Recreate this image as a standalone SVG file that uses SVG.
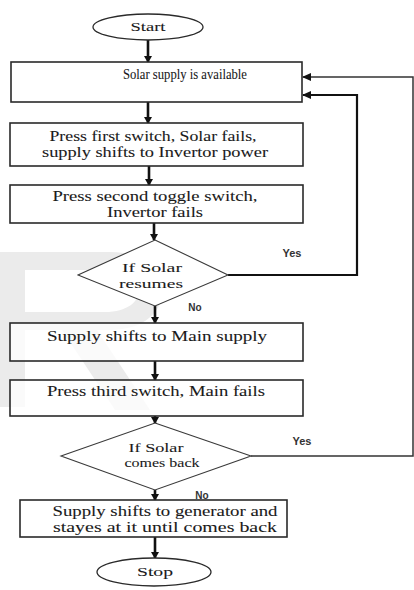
<svg xmlns="http://www.w3.org/2000/svg" width="414" height="590" viewBox="0 0 414 590">
<style>
.box{fill:#fff;fill-opacity:0.75;stroke:#2a2a2a;stroke-width:1.6}
.dia{fill:#fff;stroke:#3a3a3a;stroke-width:1.1}
.term{fill:#fff;stroke:#2a2a2a;stroke-width:1.3}
.t{font-family:"Liberation Serif","Times New Roman",serif;font-size:14px;fill:#1a1a1a;stroke:#1a1a1a;stroke-width:0.08;text-anchor:middle}
.d{font-size:13.5px}
.s{font-family:"Liberation Sans",Arial,sans-serif;font-size:11px;fill:#333;text-anchor:middle;font-weight:bold}
.arr{stroke:#111;stroke-width:2.6;fill:none;marker-end:url(#ah)}
.loop{stroke:#333;stroke-width:1.5;fill:none;marker-end:url(#ah2)}
.wm{fill:#ebebeb}
</style>
<defs>
<marker id="ah" markerWidth="8" markerHeight="8" refX="6" refY="4" orient="auto" markerUnits="userSpaceOnUse">
<path d="M0,0 L7,4 L0,8 Z" fill="#111"/>
</marker>
<marker id="ah2" markerWidth="10" markerHeight="8" refX="8" refY="4" orient="auto" markerUnits="userSpaceOnUse">
<path d="M0,0 L9,4 L0,8 Z" fill="#111"/>
</marker>
</defs>
<rect width="414" height="590" fill="#fff"/>
<g id="watermark">
<rect class="wm" x="0" y="252" width="25" height="155"/>
<path class="wm" fill-rule="evenodd" d="M25,252 H110 C180,252 180,330 110,330 H25 Z M25,270 H105 C150,270 150,312 105,312 H25 Z"/>
<polygon class="wm" points="62,330 97,330 150,410 115,410"/>
</g>
<g id="connectors">
<line class="arr" x1="148" y1="40" x2="148" y2="62"/>
<line class="arr" x1="148" y1="102" x2="148" y2="123"/>
<line class="arr" x1="149" y1="166" x2="149" y2="185"/>
<line class="arr" x1="154" y1="223" x2="154" y2="240"/>
<line class="arr" x1="155" y1="306" x2="155" y2="323"/>
<line class="arr" x1="155" y1="361" x2="155" y2="380"/>
<line class="arr" x1="155" y1="416" x2="155" y2="423"/>
<line class="arr" x1="155" y1="490" x2="155" y2="500"/>
<line class="arr" x1="155" y1="537" x2="155" y2="558"/>
<polyline class="loop" points="228,275 357,275 357,95 303,95" style="stroke:#111;stroke-width:2.2"/>
<polyline class="loop" points="251,456 413,456 413,77 303,77"/>
<text class="s" x="292" y="257">Yes</text>
<text class="s" x="195" y="311" style="font-size:10px">No</text>
<text class="s" x="302" y="445">Yes</text>
<text class="s" x="202" y="499" style="font-size:10px">No</text>
</g>
<g id="start">
<ellipse class="term" cx="148" cy="27" rx="55" ry="13"/>
<text class="t d" x="148" y="31" textLength="35" lengthAdjust="spacingAndGlyphs">Start</text>
</g>
<g id="solar-available">
<rect class="box" x="11" y="62" width="291" height="40"/>
<text class="t" x="185" y="79" textLength="124" lengthAdjust="spacingAndGlyphs">Solar supply is available</text>
</g>
<g id="first-switch">
<rect class="box" x="10" y="123" width="293" height="43"/>
<text class="t" x="153" y="141" textLength="207" lengthAdjust="spacingAndGlyphs">Press first switch, Solar fails,</text>
<text class="t" x="155" y="157" textLength="226" lengthAdjust="spacingAndGlyphs">supply shifts to Invertor power</text>
</g>
<g id="second-switch">
<rect class="box" x="10" y="185" width="293" height="38"/>
<text class="t" x="155" y="201" textLength="205" lengthAdjust="spacingAndGlyphs">Press second toggle switch,</text>
<text class="t" x="155" y="217" textLength="96" lengthAdjust="spacingAndGlyphs">Invertor fails</text>
</g>
<g id="solar-resumes">
<polygon class="dia" points="155,240 228,275 155,306 78,275"/>
<text class="t d" x="152" y="272" textLength="60" lengthAdjust="spacingAndGlyphs">If Solar</text>
<text class="t d" x="151" y="288" textLength="64" lengthAdjust="spacingAndGlyphs">resumes</text>
</g>
<g id="main-supply">
<rect class="box" x="10" y="323" width="293" height="38"/>
<text class="t" x="157" y="341" textLength="220" lengthAdjust="spacingAndGlyphs">Supply shifts to Main supply</text>
</g>
<g id="third-switch">
<rect class="box" x="10" y="380" width="293" height="36"/>
<text class="t" x="156" y="396" textLength="218" lengthAdjust="spacingAndGlyphs">Press third switch, Main fails</text>
</g>
<g id="solar-comes-back">
<polygon class="dia" points="155,423 251,456 155,490 61,456"/>
<text class="t d" x="156" y="452" textLength="55" lengthAdjust="spacingAndGlyphs">If Solar</text>
<text class="t d" x="162" y="467" textLength="75" lengthAdjust="spacingAndGlyphs">comes back</text>
</g>
<g id="generator">
<rect class="box" x="20" y="500" width="267" height="37"/>
<text class="t" x="165" y="516" textLength="225" lengthAdjust="spacingAndGlyphs">Supply shifts to generator and</text>
<text class="t" x="165" y="532" textLength="224" lengthAdjust="spacingAndGlyphs">stayes at it until comes back</text>
</g>
<g id="stop">
<ellipse class="term" cx="154" cy="572" rx="57" ry="14"/>
<text class="t d" x="155" y="576" textLength="36" lengthAdjust="spacingAndGlyphs">Stop</text>
</g>
</svg>
